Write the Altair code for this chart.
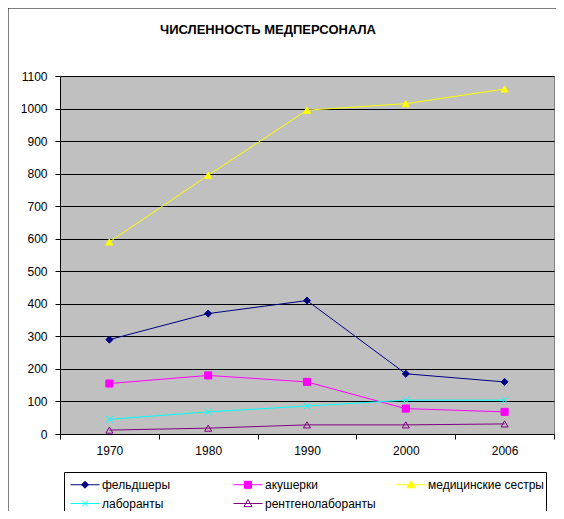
import altair as alt
import pandas as pd

years = ["1970", "1980", "1990", "2000", "2006"]
series = ["фельдшеры", "акушерки", "медицинские сестры", "лаборанты", "рентгенолаборанты"]
feldshery = [290, 370, 410, 185, 160]
akusherki = [155, 180, 160, 78, 68]
medsestry = [590, 795, 995, 1015, 1060]
laboranty = [45, 68, 86, 104, 104]
rentgen = [12, 18, 28, 28, 31]
y_ticks = list(range(0, 1101, 100))

values_by_series = [feldshery, akusherki, medsestry, laboranty, rentgen]
rows = []
for s, vals in zip(series, values_by_series):
    for i, (yr, v) in enumerate(zip(years, vals)):
        rows.append({"series": s, "year": yr, "idx": i, "value": v})
df = pd.DataFrame(rows)

# styles
colors = ["#000080", "#FF00FF", "#FFFF00", "#00FFFF", "#800080"]
fills = ["#000080", "#FF00FF", "#FFFF00", "transparent", "transparent"]
shapes = ["diamond", "square", "triangle-up", "M-1,-1L1,1M-1,1L1,-1", "triangle-up"]
leg_line = "M-0.6,0L2.3,0"
leg_shapes = [
    leg_line + "M0.5,0L0.85,-0.35L1.2,0L0.85,0.35Z",
    leg_line + "M0.5,-0.35L1.2,-0.35L1.2,0.35L0.5,0.35Z",
    leg_line + "M0.85,-0.4L1.25,0.3L0.45,0.3Z",
    leg_line + "M0.55,-0.3L1.15,0.3M0.55,0.3L1.15,-0.3",
    leg_line + "M0.85,-0.4L1.25,0.3L0.45,0.3Z",
]

FONT = "Liberation Sans"
W, H = 494, 358
n = len(years)


def js_list(lst):
    return "[" + ",".join("'" + str(x) + "'" for x in lst) + "]"


x_vals = [i * 0.5 - 0.5 for i in range(2 * n + 1)]
label_expr = "datum.value % 1 === 0 ? " + js_list(years) + "[datum.value] : ''"

x_enc = alt.X(
    "idx:Q",
    scale=alt.Scale(domain=[-0.5, n - 0.5], nice=False, zero=False),
    axis=alt.Axis(
        values=x_vals,
        labelExpr=label_expr,
        title=None,
        grid=False,
        tickSize=5,
        tickColor="black",
        tickOpacity={"condition": {"test": "datum.value % 1 !== 0", "value": 1}, "value": 0},
        domainColor="black",
        labelFont=FONT,
        labelFontSize=12,
        labelColor="black",
        labelPadding=6,
        labelOverlap=False,
        labelFlush=False,
    ),
)
y_enc = alt.Y(
    "value:Q",
    scale=alt.Scale(domain=[0, 1100], nice=False),
    axis=alt.Axis(
        values=y_ticks,
        format="d",
        title=None,
        grid=True,
        gridColor="black",
        gridWidth=1,
        tickSize=5,
        tickColor="black",
        domainColor="black",
        labelFont=FONT,
        labelFontSize=12,
        labelColor="black",
        labelPadding=8,
        labelOverlap=False,
    ),
)
stroke_scale = alt.Scale(domain=series, range=colors)
fill_scale = alt.Scale(domain=series, range=fills)
leg_shape_scale = alt.Scale(domain=series, range=leg_shapes)

leg_props = dict(
    title=None,
    orient="none",
    direction="horizontal",
    legendX=4,
    legendY=396,
    columns=3,
    gridAlign="all",
    columnPadding=11,
    rowPadding=2,
    padding=2,
    strokeColor="black",
    fillColor="white",
    symbolSize=400,
    symbolStrokeWidth=1,
    symbolOpacity=1,
    labelFont=FONT,
    labelFontSize=12,
    labelColor="black",
    labelOffset=15,
    labelLimit=300,
)

legend_layer = (
    alt.Chart(df)
    .mark_point(size=400, strokeWidth=1, opacity=0)
    .encode(
        x=x_enc,
        y=y_enc,
        stroke=alt.Stroke("series:N", scale=stroke_scale, legend=alt.Legend(**leg_props)),
        fill=alt.Fill("series:N", scale=fill_scale, legend=alt.Legend(**leg_props)),
        shape=alt.Shape("series:N", scale=leg_shape_scale, legend=alt.Legend(**leg_props)),
    )
)

lines = alt.Chart(df).mark_line(strokeWidth=1).encode(
    x=x_enc,
    y=y_enc,
    stroke=alt.Stroke("series:N", scale=stroke_scale, legend=None),
    order="idx:Q",
)

point_layers = []
for s, c, f, sh in zip(series, colors, fills, shapes):
    point_layers.append(
        alt.Chart(df)
        .transform_filter(alt.datum.series == s)
        .mark_point(shape=sh, size=50, strokeWidth=1, opacity=1, stroke=c, fill=f)
        .encode(x=x_enc, y=y_enc)
    )

frame = alt.Chart(pd.DataFrame({"a": [0]})).mark_rect(
    fill="transparent", stroke="black", strokeWidth=1
).encode(
    x=alt.value(-52), x2=alt.value(W + 60), y=alt.value(-68), y2=alt.value(H + 200)
)

chart = alt.layer(frame, legend_layer, lines, *point_layers).properties(
    width=W,
    height=H,
    background="white",
    padding={"left": 52, "top": 68, "right": 2, "bottom": 77},
    autosize=alt.AutoSizeParams(type="none"),
    title=alt.TitleParams(
        "ЧИСЛЕННОСТЬ МЕДПЕРСОНАЛА",
        font=FONT,
        fontSize=13,
        fontWeight="bold",
        color="black",
        anchor="middle",
        dx=-39,
        offset=0,
        dy=29,
    ),
).configure_view(fill="#C0C0C0", stroke="#808080", strokeWidth=1)

chart.save("out.html", embed_options={"renderer": "svg", "actions": False})
